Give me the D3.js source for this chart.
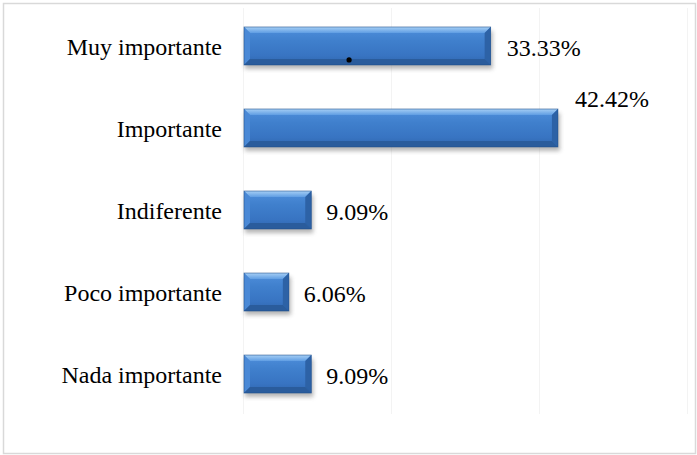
<!DOCTYPE html>
<html>
<head>
<meta charset="utf-8">
<script src="https://cdn.jsdelivr.net/npm/d3@7"></script>
<style>
  html, body { margin: 0; padding: 0; background: #fff; }
  svg { display: block; }
</style>
</head>
<body>
<svg id="chart" width="697" height="455"></svg>
<script>
// Survey answers and their shares (%)
const categories = ["Muy importante", "Importante", "Indiferente", "Poco importante", "Nada importante"];
const values = [33.33, 42.42, 9.09, 6.06, 9.09];
const valueLabels = ["33.33%", "42.42%", "9.09%", "6.06%", "9.09%"];
const gridTicks = [0, 20, 40, 60];

const svg = d3.select("#chart");
const font = '"Liberation Serif", "Times New Roman", serif';

const x = d3.scaleLinear().domain([0, 60]).range([244, 688]);
const y = d3.scaleBand().domain(categories).range([5, 415]).paddingInner(0.537).paddingOuter(0.268);

const defs = svg.append("defs");
const faceGrad = defs.append("linearGradient").attr("id", "face").attr("x1", 0).attr("y1", 0).attr("x2", 0).attr("y2", 1);
[[0, "#4f8fdc"], [0.35, "#4080cd"], [0.75, "#3874c2"], [1, "#2f65ad"]].forEach(([o, c]) =>
  faceGrad.append("stop").attr("offset", o).attr("stop-color", c));
const topGrad = defs.append("linearGradient").attr("id", "topBevel").attr("x1", 0).attr("y1", 0).attr("x2", 0).attr("y2", 1);
[[0, "#a6cff5"], [1, "#5f9de3"]].forEach(([o, c]) =>
  topGrad.append("stop").attr("offset", o).attr("stop-color", c));
const shadow = defs.append("filter").attr("id", "shadow").attr("x", "-10%").attr("y", "-30%").attr("width", "120%").attr("height", "160%");
shadow.append("feGaussianBlur").attr("stdDeviation", 2.2);

// chart frame
svg.append("rect").attr("x", 3.5).attr("y", 3.5).attr("width", 692).attr("height", 450)
  .attr("fill", "#fff").attr("stroke", "#d9d9d9").attr("stroke-width", 1.5);

// faint vertical gridlines
svg.append("g").selectAll("line").data(gridTicks).join("line")
  .attr("x1", d => x(d) - 0.5).attr("x2", d => x(d) - 0.5)
  .attr("y1", 8).attr("y2", 414)
  .attr("stroke", "#f3f3f3").attr("stroke-width", 1);

// category labels
svg.append("g").selectAll("text").data(categories).join("text")
  .attr("x", 222).attr("y", d => y(d) + y.bandwidth() / 2 + 1)
  .attr("text-anchor", "end").attr("dominant-baseline", "central")
  .style("font-family", font).attr("font-size", 24).attr("fill", "#000")
  .text(d => d);

// bevelled bars
const b = 6;
const bars = svg.append("g").selectAll("g").data(values).join("g");
bars.each(function (v, i) {
  const g = d3.select(this);
  const x0 = x(0), x1 = x(v), y0 = y(categories[i]), y1 = y0 + y.bandwidth();
  g.append("rect").attr("x", x0 + 1).attr("y", y0 + 4).attr("width", x1 - x0 + 1).attr("height", y1 - y0)
    .attr("fill", "#7a7a7a").attr("opacity", 0.55).attr("filter", "url(#shadow)");
  g.append("rect").attr("x", x0).attr("y", y0).attr("width", x1 - x0).attr("height", y1 - y0).attr("fill", "url(#face)");
  const poly = (pts, fill) => g.append("polygon").attr("points", pts.map(p => p.join(",")).join(" ")).attr("fill", fill);
  poly([[x0, y0], [x1, y0], [x1 - b, y0 + b], [x0 + b, y0 + b]], "url(#topBevel)");
  poly([[x0, y0], [x0 + b, y0 + b], [x0 + b, y1 - b], [x0, y1]], "#4a89d6");
  poly([[x1, y0], [x1, y1], [x1 - b, y1 - b], [x1 - b, y0 + b]], "#2d62a6");
  poly([[x0, y1], [x1, y1], [x1 - b, y1 - b], [x0 + b, y1 - b]], "#2a5c9c");
  g.append("rect").attr("x", x0).attr("y", y0).attr("width", x1 - x0).attr("height", y1 - y0)
    .attr("fill", "none").attr("stroke", "#1f4e8a").attr("stroke-width", 0.8).attr("opacity", 0.7);
});

// small black point on the first bar
svg.append("circle").attr("cx", x(14.2)).attr("cy", y(categories[0]) + y.bandwidth() - 5)
  .attr("r", 2.6).attr("fill", "#000");

// value labels (largest one sits above its bar)
const maxV = d3.max(values);
svg.append("g").selectAll("text").data(values).join("text")
  .attr("x", v => x(v) + (v === maxV ? 17 : 15 + (v > 20 ? 1 : 0)))
  .attr("y", (v, i) => v === maxV ? y(categories[i]) - 10 : y(categories[i]) + y.bandwidth() / 2 + 2)
  .attr("dominant-baseline", "central")
  .style("font-family", font).attr("font-size", 24).attr("fill", "#000")
  .text((v, i) => valueLabels[i]);
</script>
</body>
</html>
